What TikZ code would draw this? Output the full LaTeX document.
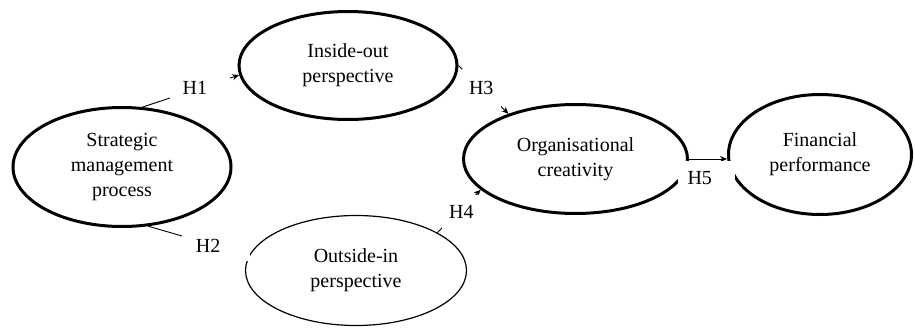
\documentclass[tikz,border=0pt]{standalone}
\usepackage{fontspec}
\setmainfont{Liberation Serif}
\usetikzlibrary{shapes.geometric,arrows.meta}
\tikzset{
	concept/.style={draw, ellipse, line width=3pt, inner sep=0pt, align=center, font=\fontsize{20}{25}\selectfont},
	hyp/.style={fill=white, inner ysep=0pt, align=left, font=\fontsize{20}{24}\selectfont},
	link/.style={line width=0.9pt, -{Stealth[length=7pt,width=6pt]}}
}

\begin{document}
\begin{tikzpicture}[x=1pt,y=-1pt]
			%%%%% START %%%%%
			\useasboundingbox (0,0) rectangle (915,329);
			
			\node[concept, minimum width=218, minimum height=119] (smp) at (122,167) {Strategic\\management\\process};
			\node[concept, minimum width=218, minimum height=108] (iop) at (348,65.5) {Inside-out\\perspective};
			\node[concept, line width=1.2pt, minimum width=221, minimum height=110] (oip) at (356,270.5) {Outside-in\\perspective};
			
			\node[concept, minimum width=224, minimum height=109] (org) at (575.5,159) {Organisational\\creativity};
			\node[concept, minimum width=183, minimum height=120] (fin) at (820,154.5) {Financial\\performance};
			
			% hypotheses
			\draw[link] (smp.71) -- node[hyp, pos=0.59, inner xsep=13pt, text width=34pt, minimum height=24pt] (h1) {H1} (iop.185);
			\draw[link] (smp.-66) -- node[hyp, pos=0.67, inner xsep=14pt, text width=40pt, minimum height=30pt] (h2) {H2} (oip.172);
			\draw[link] (iop.east) -- node[hyp, pos=0.46, inner xsep=7pt, text width=25pt, minimum height=38pt] (h3) {H3} (org.146);
			\draw[link] (oip.25) -- node[hyp, pos=0.49, xshift=3pt, inner xsep=7pt, text width=25pt, minimum height=34pt] (h4) {H4} (org.198);
			
			\draw[link] (org.east) -- node[hyp, below, yshift=-2pt, xshift=-2pt, inner xsep=10pt, text width=37pt, minimum height=34pt] (h5) {H5} (org.east -| fin.west);
			
			%%%%% END %%%%%
\end{tikzpicture}
\end{document}
